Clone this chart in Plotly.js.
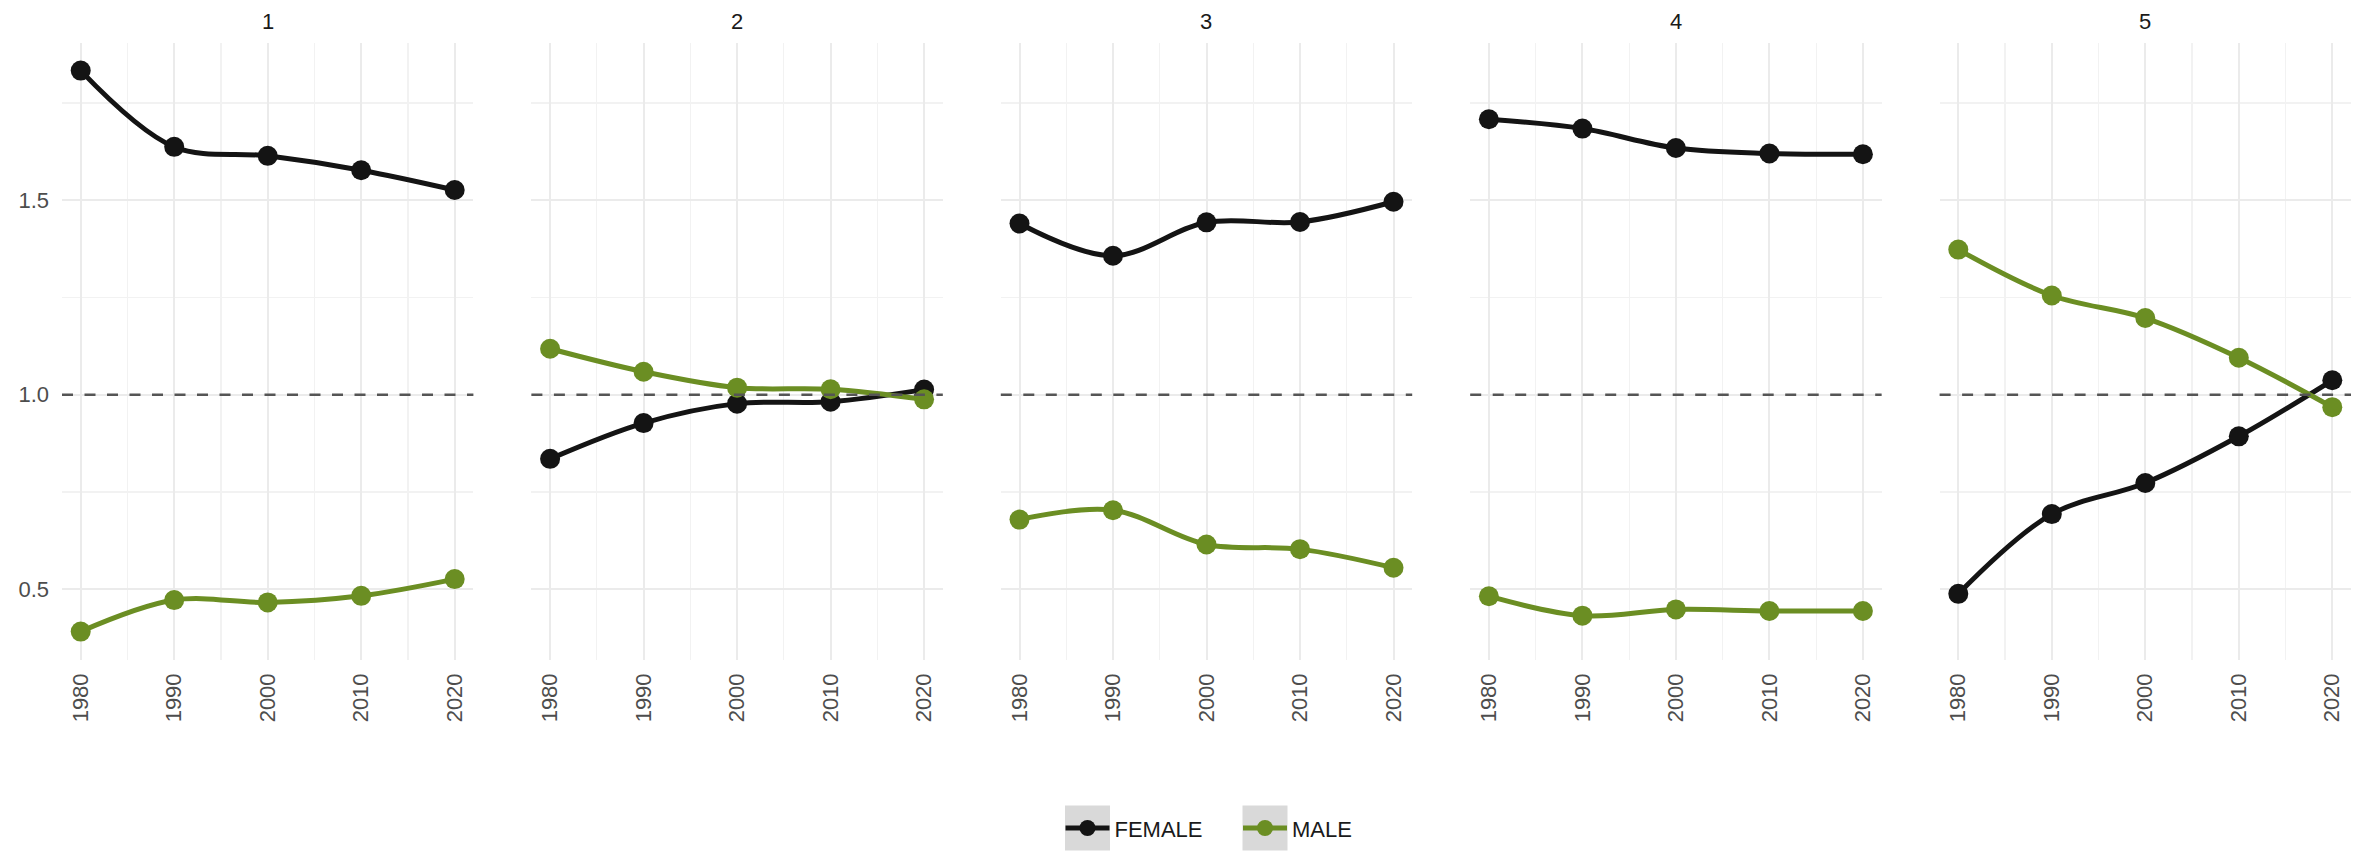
<!DOCTYPE html>
<html>
<head>
<meta charset="utf-8">
<script src="https://cdn.plot.ly/plotly-3.0.1.min.js"></script>
<style>
  html, body { margin: 0; padding: 0; background: #ffffff; }
  #chart { width: 2369px; height: 851px; }
</style>
</head>
<body>
<div id="chart"></div>
<script>
// ---- data ----
const years = [1980, 1990, 2000, 2010, 2020];
const panels = ["1", "2", "3", "4", "5"];
const seriesNames = ["FEMALE", "MALE"];

const female1 = [1.833, 1.637, 1.614, 1.577, 1.526];
const male1   = [0.391, 0.472, 0.466, 0.483, 0.526];
const female2 = [0.835, 0.927, 0.977, 0.982, 1.013];
const male2   = [1.118, 1.059, 1.018, 1.014, 0.988];
const female3 = [1.440, 1.357, 1.443, 1.444, 1.496];
const male3   = [0.679, 0.703, 0.615, 0.603, 0.555];
const female4 = [1.708, 1.684, 1.634, 1.620, 1.618];
const male4   = [0.482, 0.432, 0.448, 0.444, 0.444];
const female5 = [0.488, 0.693, 0.773, 0.893, 1.037];
const male5   = [1.373, 1.255, 1.197, 1.095, 0.968];

const femaleByPanel = [female1, female2, female3, female4, female5];
const maleByPanel   = [male1, male2, male3, male4, male5];
const refLine = 1;

// ---- styling ----
const colors = { FEMALE: "#141414", MALE: "#6b8e23" };
const FONT = "Liberation Sans, Arial, sans-serif";
const W = 2369, H = 851;
const margin = { l: 62, r: 18, t: 43, b: 191, pad: 0, autoexpand: false };
const gapPx = 58;
const plotW = W - margin.l - margin.r;
const plotH = H - margin.t - margin.b;
const panelW = (plotW - gapPx * (panels.length - 1)) / panels.length;

// legend key target (pixel centre of first key, key size)
const keyTarget = { cx: 1087.5, cy: 828, size: 45 };
const legendItemWidth = 44;

const traces = [];
const layout = {
  width: W, height: H,
  margin: margin,
  paper_bgcolor: "#ffffff",
  plot_bgcolor: "#ffffff",
  font: { family: FONT, size: 22, color: "#4d4d4d" },
  showlegend: true,
  legend: {
    orientation: "h",
    x: (keyTarget.cx - 27 - margin.l) / plotW, xanchor: "left",
    y: -(keyTarget.cy - (H - margin.b)) / plotH, yanchor: "middle",
    bgcolor: "rgba(0,0,0,0)",
    font: { family: FONT, size: 22, color: "#1a1a1a" },
    itemwidth: legendItemWidth,
    entrywidth: 118.5,
    entrywidthmode: "pixels",
    tracegroupgap: 0
  },
  shapes: [],
  annotations: []
};

panels.forEach((p, i) => {
  const n = i + 1;
  const xa = n === 1 ? "x" : "x" + n;
  const ya = n === 1 ? "y" : "y" + n;
  const x0 = (i * (panelW + gapPx)) / plotW;
  const x1 = (i * (panelW + gapPx) + panelW) / plotW;

  layout[n === 1 ? "xaxis" : "xaxis" + n] = {
    domain: [x0, x1],
    anchor: ya,
    range: [1978, 2022],
    tick0: 1980, dtick: 10,
    tickangle: -90,
    ticks: "",
    ticklabelstandoff: 8,
    showline: false, zeroline: false,
    showgrid: true, gridcolor: "#ebebeb", gridwidth: 2,
    minor: { tick0: 1980, dtick: 5, showgrid: true, gridcolor: "#f2f2f2", gridwidth: 1.2 },
    tickfont: { family: FONT, size: 22, color: "#4d4d4d" },
    fixedrange: true
  };
  layout[n === 1 ? "yaxis" : "yaxis" + n] = {
    domain: [0, 1],
    anchor: xa,
    range: [0.318, 1.904],
    tick0: 0.5, dtick: 0.5,
    tickformat: ".1f",
    ticks: "",
    ticklabelstandoff: 12,
    showticklabels: n === 1,
    showline: false, zeroline: false,
    showgrid: true, gridcolor: "#ebebeb", gridwidth: 2,
    minor: { tick0: 0.25, dtick: 0.25, showgrid: true, gridcolor: "#f2f2f2", gridwidth: 1.2 },
    tickfont: { family: FONT, size: 22, color: "#4d4d4d" },
    fixedrange: true
  };

  // reference line
  layout.shapes.push({
    type: "line", layer: "above",
    xref: xa + " domain", x0: 0, x1: 1,
    yref: ya, y0: refLine, y1: refLine,
    line: { color: "#555555", width: 2.6, dash: "11px,11.5px" }
  });

  // facet strip label
  layout.annotations.push({
    text: p, showarrow: false,
    xref: "paper", x: (x0 + x1) / 2, xanchor: "center",
    yref: "paper", y: 1 + (margin.t - 21) / plotH, yanchor: "middle",
    font: { family: FONT, size: 22, color: "#1a1a1a" }
  });

  const series = { FEMALE: femaleByPanel[i], MALE: maleByPanel[i] };
  seriesNames.forEach(name => {
    traces.push({
      type: "scatter", mode: "lines+markers",
      x: years, y: series[name],
      xaxis: xa, yaxis: ya,
      name: name, legendgroup: name,
      showlegend: n === 1,
      line: { color: colors[name], width: 5, shape: "spline", smoothing: 1 },
      marker: { color: colors[name], size: 20 },
      hoverinfo: "skip"
    });
  });
});

Plotly.newPlot("chart", traces, layout, { staticPlot: true, displayModeBar: false }).then(gd => {
  // place the legend precisely and draw grey ggplot-style key backgrounds
  const gdRect = gd.getBoundingClientRect();
  const sz = gd._fullLayout._size;
  const centres = [];
  gd.querySelectorAll(".legend .traces").forEach(tr => {
    const ln = tr.querySelector(".legendlines path") || tr.querySelector(".legendpoints path");
    if (!ln) return;
    const r = ln.getBoundingClientRect();
    centres.push({ x: r.left + r.width / 2 - gdRect.left, y: r.top + r.height / 2 - gdRect.top });
  });
  if (!centres.length) return;
  const dx = keyTarget.cx - centres[0].x;
  const dy = keyTarget.cy - centres[0].y;
  const half = keyTarget.size / 2;
  const boxes = centres.map(c => {
    const cx = c.x + dx, cy = c.y + dy;
    return {
      type: "rect", layer: "below",
      xref: "paper", yref: "paper",
      x0: (cx - half - sz.l) / sz.w, x1: (cx + half - sz.l) / sz.w,
      y0: 1 - (cy + half - sz.t) / sz.h, y1: 1 - (cy - half - sz.t) / sz.h,
      line: { width: 0 }, fillcolor: "#d9d9d9"
    };
  });
  return Plotly.relayout(gd, {
    "legend.x": gd._fullLayout.legend.x + dx / sz.w,
    "legend.y": gd._fullLayout.legend.y - dy / sz.h,
    shapes: layout.shapes.concat(boxes)
  });
});
</script>
</body>
</html>
